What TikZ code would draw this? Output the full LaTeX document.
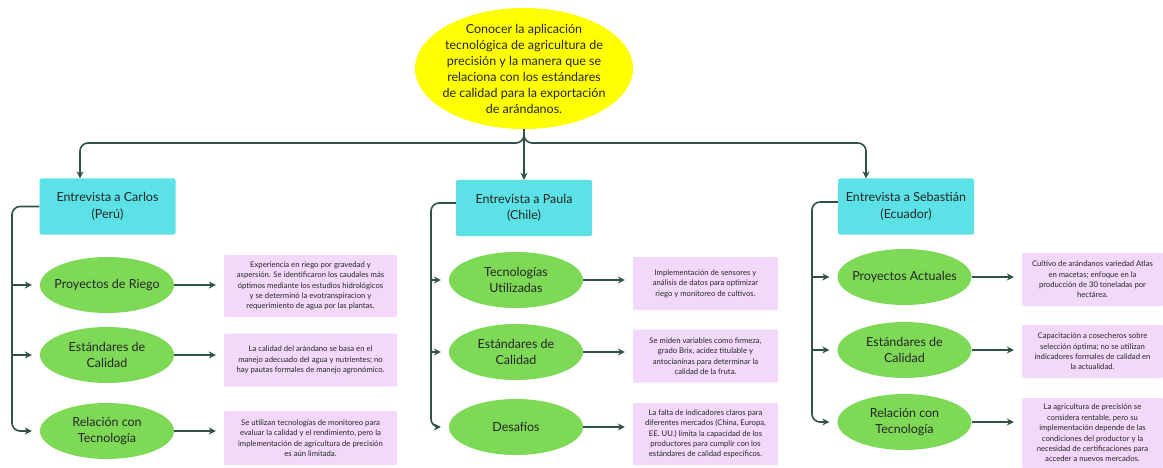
\documentclass[tikz,border=0pt]{standalone}
\usepackage{fontspec}
\setmainfont{Lato}
\usetikzlibrary{arrows.meta,shapes}
\tikzset {>={Stealth[length=7pt,width=7pt]}}
\definecolor{linegreen}{HTML}{2F5244}
\definecolor{goalyellow}{HTML}{FFFF00}
\definecolor{boxcyan}{HTML}{5CE1E6}
\definecolor{ovalgreen}{HTML}{7ED957}
\definecolor{notepink}{HTML}{F2D8FA}
\definecolor{inkgray}{HTML}{262626}
\tikzset{
  goal/.style={ellipse,fill=goalyellow,minimum width=218pt,
    minimum height=121pt,inner xsep=-14pt,inner ysep=-10pt,
    align=center,text=inkgray,font=\fontsize{12.5}{16}\selectfont},
  person/.style={rectangle,rounded corners=2pt,fill=boxcyan,
    minimum width=136pt,minimum height=56pt,align=center,text=inkgray,
    font=\fontsize{12.5}{16.5}\selectfont},
  topic/.style={ellipse,fill=ovalgreen,minimum width=134pt,
    minimum height=56pt,inner xsep=-15pt,inner ysep=0pt,align=center,
    text=inkgray,font=\fontsize{12.5}{16.5}\selectfont},
  note/.style={rectangle,rounded corners=1pt,fill=notepink,
    inner sep=2pt,align=center,text=inkgray,
    font=\fontsize{7.7}{10.4}\selectfont},
  conn/.style={->,draw=linegreen,line width=1.6pt,rounded corners=8pt},
  branch/.style={conn,shorten >=8pt}
}
\begin{document}
\begin{tikzpicture}[x=1pt,y=-1pt]
\useasboundingbox (0,0) rectangle (1163,468);
% goal
\node[goal] (goal) at (524,68.5) {Conocer la aplicación\\
  tecnológica de agricultura de\\ precisión y la manera que se\\
  relaciona con los estándares\\ de calidad para la exportación\\
  de arándanos.};
% interviews
\node[person] (carlos) at (107.5,206.5) {Entrevista a Carlos\\(Perú)};
\node[person] (paula) at (524,208) {Entrevista a Paula\\(Chile)};
\node[person] (sebas) at (906,206.5) {Entrevista a Sebastián\\(Ecuador)};
\coordinate (bus) at (524,143);
\draw[conn] (goal.south) -- (bus) -| ([xshift=-27.5pt]carlos.north);
\draw[conn] (goal.south) -- (bus) -| ([xshift=-40pt]sebas.north);
\draw[conn] (goal.south) -- (paula.north);
% Carlos
\node[topic] (c1) at (107,285) {Proyectos de Riego};
\node[topic] (c2) at (107,355) {Estándares de\\Calidad};
\node[topic] (c3) at (107,431) {Relación con\\Tecnología};
\node[note,minimum width=173pt,minimum height=62pt] (cn1) at (310.5,286)
  {Experiencia en riego por gravedad y\\
   aspersión. Se identificaron los caudales más\\
   óptimos mediante los estudios hidrológicos\\
   y se determinó la evotranspiracion y\\
   requerimiento de agua por las plantas.};
\node[note,minimum width=173pt,minimum height=53pt] (cn2) at (310.5,360)
  {La calidad del arándano se basa en el\\
   manejo adecuado del agua y nutrientes; no\\
   hay pautas formales de manejo agronómico.};
\node[note,minimum width=173pt,minimum height=54pt] (cn3) at (310.5,438)
  {Se utilizan tecnologías de monitoreo para\\
   evaluar la calidad y el rendimiento, pero la\\
   implementación de agricultura de precisión\\
   es aún limitada.};
\coordinate (cspine) at (12,206.5);
\draw[branch] (carlos.west) -- (cspine) |- (c3.west);
\draw[branch] (cspine |- c1.west) -- (c1.west);
\draw[branch] (cspine |- c2.west) -- (c2.west);
\draw[branch] (c1.east) -- (c1.east -| cn1.west);
\draw[branch] (c2.east) -- (c2.east -| cn2.west);
\draw[branch] (c3.east) -- (c3.east -| cn3.west);
% Paula
\node[topic] (p1) at (516,280) {Tecnologías\\Utilizadas};
\node[topic] (p2) at (516,352) {Estándares de\\Calidad};
\node[topic] (p3) at (516,427) {Desafíos};
\node[note,minimum width=145pt,minimum height=53pt] (pn1) at (705.5,283.5)
  {Implementación de sensores y\\
   análisis de datos para optimizar\\
   riego y monitoreo de cultivos.};
\node[note,minimum width=145pt,minimum height=53pt] (pn2) at (705.5,356)
  {Se miden variables como firmeza,\\
   grado Brix, acidez titulable y\\
   antocianinas para determinar la\\
   calidad de la fruta.};
\node[note,minimum width=145pt,minimum height=62pt] (pn3) at (705.5,434)
  {La falta de indicadores claros para\\
   diferentes mercados (China, Europa,\\
   EE. UU.) limita la capacidad de los\\
   productores para cumplir con los\\
   estándares de calidad específicos.};
\coordinate (pspine) at (431,203);
\draw[branch] (paula.west |- pspine) -- (pspine) |- (p3.west);
\draw[branch] (pspine |- p1.west) -- (p1.west);
\draw[branch] (pspine |- p2.west) -- (p2.west);
\draw[branch] (p1.east) -- (p1.east -| pn1.west);
\draw[branch] (p2.east) -- (p2.east -| pn2.west);
\draw[branch] (p3.east) -- (p3.east -| pn3.west);
% Sebastian
\node[topic] (s1) at (904.5,277) {Proyectos Actuales};
\node[topic] (s2) at (904.5,350) {Estándares de\\Calidad};
\node[topic] (s3) at (904.5,422) {Relación con\\Tecnología};
\node[note,minimum width=141pt,minimum height=53pt] (sn1) at (1092.5,279.5)
  {Cultivo de arándanos variedad Atlas\\
   en macetas; enfoque en la\\
   producción de 30 toneladas por\\
   hectárea.};
\node[note,minimum width=141pt,minimum height=53pt] (sn2) at (1092.5,351.5)
  {Capacitación a cosecheros sobre\\
   selección óptima; no se utilizan\\
   indicadores formales de calidad en\\
   la actualidad.};
\node[note,minimum width=141pt,minimum height=70pt] (sn3) at (1092.5,433)
  {La agricultura de precisión se\\
   considera rentable, pero su\\
   implementación depende de las\\
   condiciones del productor y la\\
   necesidad de certificaciones para\\
   acceder a nuevos mercados.};
\coordinate (sspine) at (812,202);
\draw[branch] (sebas.west |- sspine) -- (sspine) |- (s3.west);
\draw[branch] (sspine |- s1.west) -- (s1.west);
\draw[branch] (sspine |- s2.west) -- (s2.west);
\draw[branch] (s1.east) -- (s1.east -| sn1.west);
\draw[branch] (s2.east) -- (s2.east -| sn2.west);
\draw[branch] (s3.east) -- (s3.east -| sn3.west);
\end{tikzpicture}
\end{document}
